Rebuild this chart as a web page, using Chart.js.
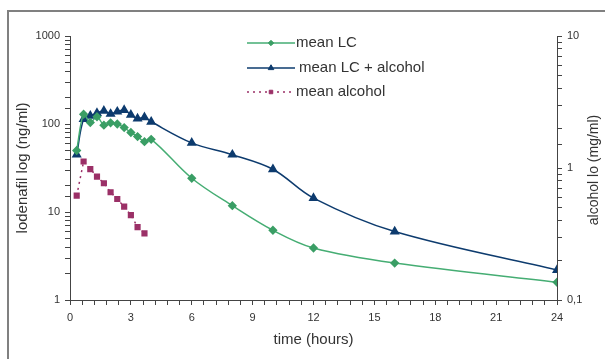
<!DOCTYPE html>
<html>
<head>
<meta charset="utf-8">
<script src="https://cdn.jsdelivr.net/npm/chart.js@4/dist/chart.umd.min.js"></script>
<style>
  html, body { margin: 0; padding: 0; background: #fff; }
  #wrap { width: 605px; height: 359px; }
</style>
</head>
<body>
<div id="wrap"><canvas id="pkChart"></canvas></div>
<script>
// sampling times (hours)
const times = [0.33, 0.67, 1, 1.33, 1.67, 2, 2.33, 2.67, 3, 3.33, 3.67, 4, 6, 8, 10, 12, 16, 24];
const alcoholTimes = [0.33, 0.67, 1, 1.33, 1.67, 2, 2.33, 2.67, 3, 3.33, 3.67];

// lodenafil, ng/ml
const meanLC = [50, 129, 104, 121, 97, 103, 100, 91, 80, 72, 63, 67, 24.2, 11.8, 6.2, 3.9, 2.63, 1.59];
const meanLCAlcohol = [45, 114, 124, 133, 141, 130, 138, 144, 127, 115, 119, 106, 61, 44.8, 30.6, 14.4, 6.0, 2.19];
// alcohol, mg/ml
const meanAlcohol = [0.617, 1.12, 0.98, 0.86, 0.766, 0.655, 0.582, 0.51, 0.44, 0.357, 0.32];

const labels = ['mean LC', 'mean LC + alcohol', 'mean alcohol'];

const toPoints = (xs, ys) => xs.map((x, i) => ({ x: x, y: ys[i] }));

const axisColor = '#444';
const textColor = '#333';
const fontFamily = "'Liberation Sans', Arial, sans-serif";
const tickFont = { family: fontFamily, size: 11 };
const titleFont = { family: fontFamily, size: 15 };

const isDecade = v => {
  const l = Math.log10(v);
  return Math.abs(l - Math.round(l)) < 1e-9;
};

// frame around the whole figure
const framePlugin = {
  id: 'frame',
  beforeDraw(chart) {
    const ctx = chart.ctx;
    ctx.save();
    ctx.fillStyle = '#fff';
    ctx.fillRect(0, 0, chart.width, chart.height);
    ctx.strokeStyle = '#808080';
    ctx.lineWidth = 2;
    ctx.strokeRect(8, 11, 700, 500);
    ctx.restore();
  }
};

// legend inside the plot, plus the right axis title (reads bottom to top)
const legendPlugin = {
  id: 'insideLegend',
  afterDatasetsDraw(chart) {
    const ctx = chart.ctx;
    const rows = [43, 68, 92];
    ctx.save();
    chart.data.datasets.forEach((ds, i) => {
      const y = rows[i];
      ctx.strokeStyle = ds.borderColor;
      ctx.lineWidth = ds.borderWidth;
      ctx.setLineDash(ds.borderDash || []);
      ctx.beginPath();
      ctx.moveTo(247, y);
      ctx.lineTo(i === 2 ? 291 : 295, y);
      ctx.stroke();
      ctx.setLineDash([]);
      ctx.fillStyle = ds.backgroundColor;
      ctx.strokeStyle = ds.pointBorderColor;
      ctx.lineWidth = 1;
      Chart.helpers.drawPoint(ctx, {
        pointStyle: ds.pointStyle,
        radius: ds.pointRadius * 0.75,
        rotation: 0,
        borderWidth: 1
      }, 271, y);
      ctx.fillStyle = textColor;
      ctx.font = '15px ' + fontFamily;
      ctx.textBaseline = 'middle';
      ctx.textAlign = 'left';
      ctx.fillText(ds.label, i === 1 ? 299 : 296, y);
    });

    const ca = chart.chartArea;
    ctx.translate(594, (ca.top + ca.bottom) / 2 + 2);
    ctx.rotate(-Math.PI / 2);
    ctx.font = '14px ' + fontFamily;
    ctx.fillStyle = textColor;
    ctx.textAlign = 'center';
    ctx.textBaseline = 'middle';
    ctx.fillText('alcohol lo (mg/ml)', 0, 0);
    ctx.restore();
  }
};

new Chart(document.getElementById('pkChart'), {
  type: 'line',
  data: {
    datasets: [
      {
        label: labels[0],
        data: toPoints(times, meanLC),
        borderColor: '#45AD73',
        backgroundColor: '#3A9E65',
        pointBorderColor: '#3A9E65',
        borderWidth: 1.5,
        pointStyle: 'rectRot',
        pointRadius: 3.6,
        tension: 0.35,
        yAxisID: 'y'
      },
      {
        label: labels[1],
        data: toPoints(times, meanLCAlcohol),
        borderColor: '#0D3B6E',
        backgroundColor: '#0D3B6E',
        pointBorderColor: '#0D3B6E',
        borderWidth: 1.5,
        pointStyle: 'triangle',
        pointRadius: 4.3,
        tension: 0.35,
        yAxisID: 'y'
      },
      {
        label: labels[2],
        data: toPoints(alcoholTimes, meanAlcohol),
        borderColor: '#9B3067',
        backgroundColor: '#9B3067',
        pointBorderColor: '#9B3067',
        borderWidth: 1.5,
        borderDash: [2, 4],
        pointStyle: 'rect',
        pointRadius: 3.3,
        tension: 0,
        yAxisID: 'y2'
      }
    ]
  },
  options: {
    responsive: true,
    maintainAspectRatio: false,
    animation: false,
    devicePixelRatio: 1,
    layout: { padding: { top: 36, left: 0, right: 0, bottom: 0 } },
    plugins: {
      legend: { display: false },
      tooltip: { enabled: false }
    },
    scales: {
      x: {
        type: 'linear',
        min: 0,
        max: 24,
        afterFit: s => { s.height = 59; },
        ticks: {
          stepSize: 0.6,
          maxTicksLimit: 100,
          autoSkip: false,
          maxRotation: 0,
          padding: 6,
          color: textColor,
          font: tickFont,
          callback: v => {
            const r = Math.round(v / 3);
            return Math.abs(v / 3 - r) < 1e-6 ? String(r * 3) : '';
          }
        },
        grid: { drawOnChartArea: false, tickLength: 5, color: axisColor },
        border: { color: axisColor, width: 1 },
        title: { display: true, text: 'time (hours)', color: textColor, font: titleFont, padding: 10 }
      },
      y: {
        type: 'logarithmic',
        position: 'left',
        min: 1,
        max: 1000,
        afterFit: s => { s.width = 70; },
        ticks: {
          autoSkip: false,
          padding: 5,
          color: textColor,
          font: tickFont,
          callback: v => isDecade(v) ? String(Math.round(v)) : ''
        },
        grid: { drawOnChartArea: false, tickLength: 5, color: axisColor },
        border: { color: axisColor, width: 1 },
        title: { display: true, text: 'lodenafil log (ng/ml)', color: textColor, font: titleFont, padding: 14 }
      },
      y2: {
        type: 'logarithmic',
        position: 'right',
        min: 0.1,
        max: 10,
        afterFit: s => { s.width = 48; },
        ticks: {
          autoSkip: false,
          padding: 5,
          color: textColor,
          font: tickFont,
          callback: v => {
            if (!isDecade(v)) return '';
            return v < 1 ? '0,1' : String(Math.round(v));
          }
        },
        grid: { drawOnChartArea: false, tickLength: 5, color: axisColor },
        border: { color: axisColor, width: 1 },
        title: { display: false }
      }
    }
  },
  plugins: [framePlugin, legendPlugin]
});
</script>
</body>
</html>
